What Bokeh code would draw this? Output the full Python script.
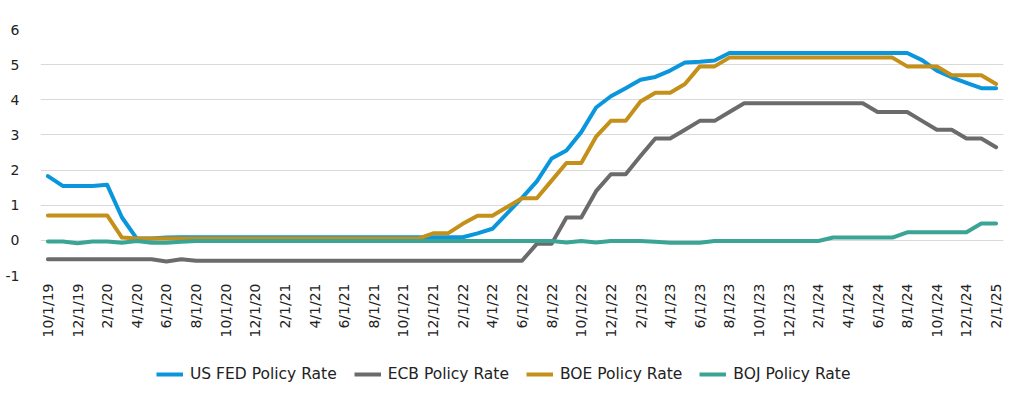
import math
from bokeh.plotting import figure
from bokeh.layouts import column
from bokeh.models import Range1d, FixedTicker, Legend, LegendItem, ColumnDataSource
from bokeh.embed import file_html
from bokeh.resources import INLINE

# Monthly observations, 10/1/19 .. 2/1/25 (65 months)
month_index = list(range(65))

fed = [1.83, 1.55, 1.55, 1.55, 1.58, 0.65, 0.05, 0.05, 0.08, 0.09,
       0.09, 0.09, 0.09, 0.09, 0.09, 0.09, 0.09, 0.09, 0.09, 0.09,
       0.09, 0.09, 0.09, 0.09, 0.09, 0.09, 0.09, 0.09, 0.09, 0.20,
       0.33, 0.77, 1.21, 1.68, 2.33, 2.56, 3.08, 3.78, 4.10, 4.33,
       4.57, 4.65, 4.83, 5.06, 5.08, 5.12, 5.33, 5.33, 5.33, 5.33,
       5.33, 5.33, 5.33, 5.33, 5.33, 5.33, 5.33, 5.33, 5.33, 5.13,
       4.83, 4.64, 4.48, 4.33, 4.33]

ecb = [-0.54, -0.54, -0.54, -0.54, -0.54, -0.54, -0.54, -0.54, -0.60, -0.54,
       -0.58, -0.58, -0.58, -0.58, -0.58, -0.58, -0.58, -0.58, -0.58, -0.58,
       -0.58, -0.58, -0.58, -0.58, -0.58, -0.58, -0.58, -0.58, -0.58, -0.58,
       -0.58, -0.58, -0.58, -0.10, -0.10, 0.65, 0.65, 1.40, 1.88, 1.88,
       2.40, 2.90, 2.90, 3.15, 3.40, 3.40, 3.65, 3.90, 3.90, 3.90,
       3.90, 3.90, 3.90, 3.90, 3.90, 3.90, 3.65, 3.65, 3.65, 3.40,
       3.15, 3.15, 2.90, 2.90, 2.65]

boe = [0.71, 0.71, 0.71, 0.71, 0.71, 0.08, 0.05, 0.05, 0.05, 0.05,
       0.05, 0.05, 0.05, 0.05, 0.05, 0.05, 0.05, 0.05, 0.05, 0.05,
       0.05, 0.05, 0.05, 0.05, 0.05, 0.05, 0.20, 0.20, 0.47, 0.70,
       0.70, 0.95, 1.20, 1.20, 1.70, 2.20, 2.20, 2.95, 3.40, 3.40,
       3.95, 4.20, 4.20, 4.45, 4.95, 4.95, 5.20, 5.20, 5.20, 5.20,
       5.20, 5.20, 5.20, 5.20, 5.20, 5.20, 5.20, 5.20, 4.95, 4.95,
       4.95, 4.70, 4.70, 4.70, 4.45]

boj = [-0.03, -0.03, -0.08, -0.03, -0.03, -0.07, -0.02, -0.07, -0.07, -0.04,
       -0.02, -0.02, -0.02, -0.02, -0.02, -0.02, -0.02, -0.02, -0.02, -0.02,
       -0.02, -0.02, -0.02, -0.02, -0.02, -0.02, -0.02, -0.02, -0.02, -0.02,
       -0.02, -0.02, -0.02, -0.02, -0.02, -0.06, -0.02, -0.06, -0.02, -0.02,
       -0.02, -0.04, -0.07, -0.07, -0.07, -0.02, -0.02, -0.02, -0.02, -0.02,
       -0.02, -0.02, -0.02, 0.08, 0.08, 0.08, 0.08, 0.08, 0.23, 0.23,
       0.23, 0.23, 0.23, 0.48, 0.48]

tick_positions = list(range(0, 65, 2))
tick_labels = ["10/1/19", "12/1/19", "2/1/20", "4/1/20", "6/1/20", "8/1/20",
               "10/1/20", "12/1/20", "2/1/21", "4/1/21", "6/1/21", "8/1/21",
               "10/1/21", "12/1/21", "2/1/22", "4/1/22", "6/1/22", "8/1/22",
               "10/1/22", "12/1/22", "2/1/23", "4/1/23", "6/1/23", "8/1/23",
               "10/1/23", "12/1/23", "2/1/24", "4/1/24", "6/1/24", "8/1/24",
               "10/1/24", "12/1/24", "2/1/25"]
y_ticks = [-1, 0, 1, 2, 3, 4, 5, 6]
y_labels = ["-1", "0", "1", "2", "3", "4", "5", "6"]

series_keys = ["fed", "ecb", "boe", "boj"]
series_names = ["US FED Policy Rate", "ECB Policy Rate", "BOE Policy Rate", "BOJ Policy Rate"]
series_colors = ["#0A96DC", "#6B6B6B", "#C4901A", "#3AA595"]

FONT = "DejaVu Sans"
LINE_W = 4

p = figure(width=1020, height=340, output_backend="svg", toolbar_location=None,
           x_range=Range1d(-0.5, 64.5), y_range=Range1d(-1, 6),
           min_border_left=40, min_border_right=17, min_border_top=29,
           min_border_bottom=65)
p.outline_line_color = None
p.background_fill_color = "white"
p.border_fill_color = "white"

src = ColumnDataSource(dict(x=month_index, fed=fed, ecb=ecb, boe=boe, boj=boj))
for key, color in zip(series_keys, series_colors):
    p.line("x", key, source=src, line_color=color, line_width=LINE_W,
           line_join="round", line_cap="round")

p.xgrid.grid_line_color = None
p.ygrid.grid_line_color = "#D9D9D9"
p.ygrid.grid_line_width = 1.2
p.yaxis.ticker = FixedTicker(ticks=y_ticks)
p.yaxis.major_label_overrides = {t: l for t, l in zip(y_ticks, y_labels)}
p.xaxis.ticker = FixedTicker(ticks=tick_positions)
p.xaxis.major_label_overrides = {pos: lab for pos, lab in zip(tick_positions, tick_labels)}
p.xaxis.major_label_orientation = math.pi / 2

for ax in (p.xaxis, p.yaxis):
    ax.axis_line_color = None
    ax.major_tick_line_color = None
    ax.minor_tick_line_color = None
    ax.major_label_text_font = FONT
    ax.major_label_text_color = "#222222"
    ax.major_label_text_font_size = "14px"
p.yaxis.major_label_standoff = 15
p.xaxis.major_label_standoff = 2

# Legend strip below the chart (its line renderers sit outside the visible range)
q = figure(width=1020, height=59, output_backend="svg", toolbar_location=None,
           x_range=Range1d(0, 1), y_range=Range1d(0, 1),
           min_border_left=0, min_border_right=0, min_border_top=0,
           min_border_bottom=0)
q.outline_line_color = None
q.axis.visible = False
q.grid.visible = False
q.border_fill_color = "white"
q.background_fill_color = "white"
items = []
for name, color in zip(series_names, series_colors):
    r = q.line(x=[-5, -4], y=[-5, -5], line_color=color, line_width=LINE_W)
    items.append(LegendItem(label=name, renderers=[r]))

legend = Legend(items=items, orientation="horizontal", location=(116, 16),
                label_text_font=FONT, label_text_font_size="15.5px",
                label_text_color="#222222",
                glyph_width=27, glyph_height=18, label_standoff=7, spacing=17,
                border_line_color=None, background_fill_alpha=0,
                padding=4, margin=0)
q.add_layout(legend, "center")

layout = column(p, q, spacing=0)
open("out.html", "w").write(file_html(layout, INLINE))
